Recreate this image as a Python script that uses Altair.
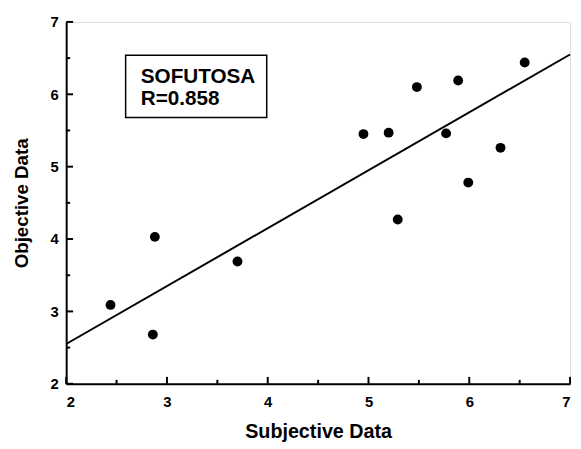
import altair as alt
import pandas as pd

# Data
subjective = [2.44, 2.86, 2.88, 3.70, 4.95, 5.20, 5.29, 5.48, 5.77, 5.89, 5.99, 6.31, 6.55]
objective = [3.09, 2.68, 4.03, 3.69, 5.45, 5.47, 4.27, 6.10, 5.46, 6.19, 4.78, 5.26, 6.44]
fit_x = [2.0, 7.0]
fit_y = [2.55, 6.55]
major_ticks = [2, 3, 4, 5, 6, 7]
minor_ticks = [2.5, 3.5, 4.5, 5.5, 6.5]
label_lines = ["SOFUTOSA", "R=0.858"]

W, H = 511, 367
FONT = "Liberation Sans"

pts = pd.DataFrame({"x": subjective, "y": objective})
fit = pd.DataFrame({"x": fit_x, "y": fit_y})
majors = pd.DataFrame({"v": major_ticks})
minors = pd.DataFrame({"v": minor_ticks})

xs = alt.Scale(domain=[2, 7], nice=False, zero=False)
ys = alt.Scale(domain=[2, 7], nice=False, zero=False)

base_axes = alt.Chart(pts).mark_point(opacity=0).encode(
    x=alt.X("x:Q", scale=xs, title="Subjective Data",
            axis=alt.Axis(values=major_ticks, format="d", ticks=False, grid=False, domainWidth=2,
                          domainColor="black", labelFont=FONT, labelFontSize=15,
                          labelFontWeight="bold", labelColor="black", labelPadding=11,
                          titleFont=FONT, titleFontSize=20, titleFontWeight="bold",
                          titleColor="black", titleY=38, titleBaseline="top")),
    y=alt.Y("y:Q", scale=ys, title="Objective Data",
            axis=alt.Axis(values=major_ticks, format="d", ticks=False, grid=False, domainWidth=2,
                          domainColor="black", labelFont=FONT, labelFontSize=15,
                          labelFontWeight="bold", labelColor="black", labelPadding=8,
                          titleFont=FONT, titleFontSize=19, titleFontWeight="bold",
                          titleColor="black", titleX=-45, titleY=H / 2,
                          titleBaseline="middle", titleAlign="center", titleAngle=270)),
)

dots = alt.Chart(pts).mark_circle(size=100, color="black", opacity=1).encode(
    x=alt.X("x:Q", scale=xs), y=alt.Y("y:Q", scale=ys)
)

line = alt.Chart(fit).mark_line(color="black", strokeWidth=2).encode(
    x=alt.X("x:Q", scale=xs), y=alt.Y("y:Q", scale=ys)
)

xmaj = alt.Chart(majors).mark_rule(color="black", strokeWidth=2).encode(
    x=alt.X("v:Q", scale=xs), y=alt.value(H), y2=alt.value(H - 7))
xmin = alt.Chart(minors).mark_rule(color="black", strokeWidth=2).encode(
    x=alt.X("v:Q", scale=xs), y=alt.value(H), y2=alt.value(H - 4))
ymaj = alt.Chart(majors).mark_rule(color="black", strokeWidth=2).encode(
    y=alt.Y("v:Q", scale=ys), x=alt.value(0), x2=alt.value(7))
ymin = alt.Chart(minors).mark_rule(color="black", strokeWidth=2).encode(
    y=alt.Y("v:Q", scale=ys), x=alt.value(0), x2=alt.value(4))

box = alt.Chart(pd.DataFrame({"x": [2.59], "x2": [3.99], "y": [6.54], "y2": [5.68]})).mark_rect(
    fill="white", stroke="black", strokeWidth=1.5
).encode(x=alt.X("x:Q", scale=xs), x2="x2:Q", y=alt.Y("y:Q", scale=ys), y2="y2:Q")

txt = alt.Chart(pd.DataFrame({"x": [2.74, 2.74], "y": [6.16, 5.85], "t": label_lines})).mark_text(
    align="left", baseline="alphabetic", font=FONT, fontSize=21, fontWeight="bold", color="black"
).encode(x=alt.X("x:Q", scale=xs), y=alt.Y("y:Q", scale=ys), text="t:N")

chart = alt.layer(base_axes, line, dots, xmaj, xmin, ymaj, ymin, box, txt).properties(
    width=W, height=H,
    autosize=alt.AutoSizeParams(type="none"),
    padding={"left": 59, "top": 11, "right": 3, "bottom": 62},
).configure_view(stroke=None).configure(background="white")

chart.save("out.html", embed_options={"renderer": "svg", "actions": False})
